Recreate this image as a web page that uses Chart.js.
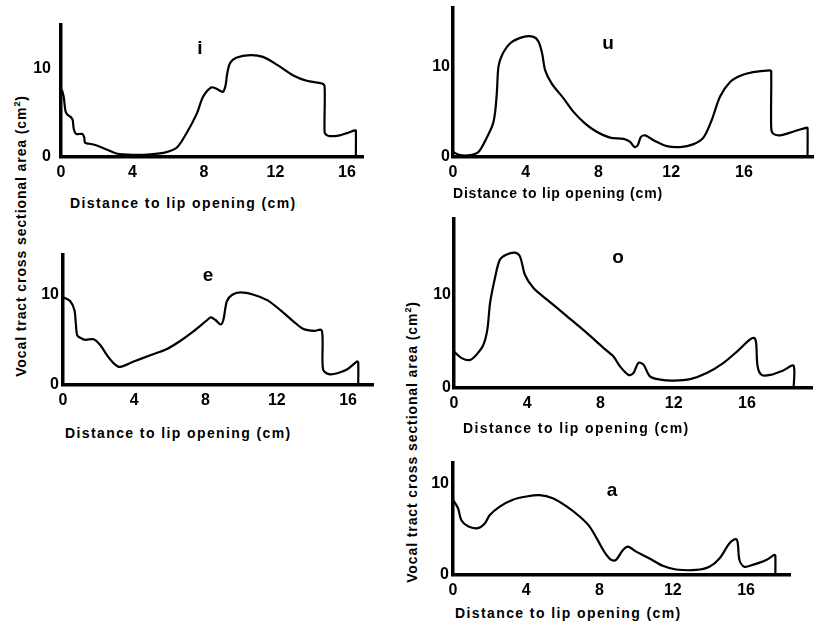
<!DOCTYPE html>
<html>
<head>
<meta charset="utf-8">
<script src="https://cdn.jsdelivr.net/npm/chart.js@4.4.1/dist/chart.umd.min.js"></script>
<style>
    body { margin: 0; background: #fff; }
    #fig { position: relative; width: 815px; height: 626px; overflow: hidden; font-family: "Liberation Sans", Arial, sans-serif; font-weight: bold; color: #000; }
    .panel { position: absolute; }
    .xtitle { position: absolute; font-size: 14px; letter-spacing: 1.4px; white-space: nowrap; line-height: 16px; }
    .vowel { position: absolute; font-size: 19px; transform: translate(-50%, -50%); line-height: 20px; }
    .ytitle { position: absolute; font-size: 14px; letter-spacing: 0.9px; white-space: nowrap; transform: translate(-50%, -50%) rotate(-90deg); line-height: 16px; }
</style>
</head>
<body>
<div id="fig">
    <div class="ytitle" style="left:19px; top:236px;">Vocal tract cross sectional area (cm<sup style="font-size:9px">2</sup>)</div>
    <div class="ytitle" style="left:410px; top:442px;">Vocal tract cross sectional area (cm<sup style="font-size:9px">2</sup>)</div>
</div>

<script>
// Tick values shared by every panel
var xTickValues = [0, 4, 8, 12, 16];
var yTickValues = [0, 10];

// Vowel /i/ : distance to lip opening (cm) and area (cm2)
var iDistance = [0.05, 0.15, 0.25, 0.35, 0.55, 0.65, 0.72, 0.85, 1.2, 1.3, 1.35, 1.6, 2.0, 2.55, 3.1, 4.0, 5.0, 5.9, 6.5, 7.0, 7.6, 7.95, 8.4, 8.7, 9.05, 9.2, 9.3, 9.46, 9.8, 10.6, 11.3, 12.1, 13.0, 13.75, 14.6, 14.75, 14.75, 14.85, 15.05, 15.6, 16.0, 16.45, 16.5, 16.5];
var iArea     = [7.6, 6.8, 5.2, 4.8, 4.5, 4.2, 3.1, 2.6, 2.6, 2.2, 1.6, 1.5, 1.3, 0.85, 0.4, 0.25, 0.3, 0.55, 1.1, 2.6, 4.9, 6.8, 7.85, 7.7, 7.35, 8.0, 9.4, 10.6, 11.2, 11.5, 11.3, 10.4, 9.2, 8.6, 8.3, 8.0, 2.8, 2.5, 2.35, 2.45, 2.7, 3.0, 3.0, 0];

// Vowel /e/
var eDistance = [0.05, 0.4, 0.64, 0.72, 0.8, 1.0, 1.25, 1.72, 2.1, 2.47, 2.85, 3.2, 3.97, 4.9, 5.84, 6.6, 7.3, 8.1, 8.3, 8.56, 8.84, 9.0, 9.2, 9.5, 9.96, 10.7, 11.46, 12.2, 12.96, 13.5, 14.1, 14.5, 14.57, 14.6, 14.93, 15.4, 15.96, 16.5, 16.57, 16.57];
var eArea     = [9.7, 9.3, 8.3, 6.8, 5.5, 5.2, 5.0, 5.07, 4.4, 3.3, 2.4, 2.0, 2.6, 3.3, 4.0, 4.9, 5.9, 7.2, 7.5, 7.2, 6.7, 7.2, 9.3, 10.0, 10.26, 10.0, 9.4, 8.3, 7.0, 6.2, 6.0, 6.1, 5.0, 1.7, 1.2, 1.3, 1.74, 2.6, 2.5, 0];

// Vowel /u/
var uDistance = [0.0, 0.4, 0.95, 1.4, 1.87, 2.2, 2.33, 2.42, 2.5, 2.7, 3.15, 3.88, 4.43, 4.7, 4.9, 5.07, 5.44, 6.08, 6.63, 7.27, 7.9, 8.64, 9.38, 9.74, 9.98, 10.16, 10.33, 10.57, 11.03, 11.76, 12.5, 13.2, 13.77, 14.23, 14.69, 15.24, 15.8, 16.5, 17.43, 17.5, 17.5, 17.6, 17.98, 18.7, 19.45, 19.5, 19.5];
var uArea     = [0.55, 0.2, 0.2, 0.55, 2.2, 3.7, 5.2, 7.4, 10.0, 11.3, 12.6, 13.3, 13.3, 12.8, 11.5, 9.6, 8.1, 6.5, 5.0, 3.7, 2.8, 2.15, 2.0, 1.67, 1.1, 1.3, 2.2, 2.4, 1.85, 1.2, 1.1, 1.4, 2.15, 4.1, 6.7, 8.3, 9.0, 9.4, 9.6, 9.5, 3.3, 2.6, 2.4, 2.8, 3.26, 3.2, 0];

// Vowel /o/
var oDistance = [0.0, 0.42, 0.87, 1.24, 1.6, 1.82, 1.97, 2.24, 2.51, 2.88, 3.33, 3.6, 3.88, 4.34, 5.06, 6.16, 7.25, 8.16, 8.7, 9.07, 9.53, 9.8, 10.07, 10.35, 10.7, 11.26, 11.99, 12.9, 13.8, 14.72, 15.45, 16.17, 16.4, 16.5, 16.58, 16.8, 17.27, 18.0, 18.54, 18.55];
var oArea     = [3.9, 3.2, 3.0, 3.6, 4.6, 6.25, 9.1, 11.8, 13.75, 14.3, 14.5, 14.1, 12.1, 10.7, 9.5, 7.7, 5.9, 4.3, 3.4, 2.3, 1.4, 1.6, 2.7, 2.5, 1.25, 0.9, 0.8, 0.95, 1.6, 2.7, 3.9, 5.2, 5.35, 4.8, 2.3, 1.4, 1.4, 1.9, 2.4, 0];

// Vowel /a/
var aDistance = [0.0, 0.27, 0.45, 0.82, 1.36, 1.73, 2.0, 2.55, 3.27, 4.0, 4.73, 5.45, 6.18, 6.9, 7.45, 7.9, 8.27, 8.64, 8.9, 9.27, 9.55, 10.0, 10.73, 11.45, 12.18, 13.27, 14.0, 14.55, 15.1, 15.45, 15.55, 15.64, 15.9, 16.36, 17.1, 17.55, 17.6, 17.6];
var aArea     = [8.2, 7.3, 6.0, 5.3, 5.1, 5.6, 6.5, 7.45, 8.2, 8.55, 8.7, 8.36, 7.5, 6.4, 5.3, 3.8, 2.5, 1.64, 1.64, 2.7, 3.1, 2.55, 1.8, 1.0, 0.6, 0.55, 0.9, 1.8, 3.45, 3.9, 3.45, 1.64, 0.9, 1.1, 1.64, 2.2, 2.1, 0];

var X_TITLE = 'Distance to lip opening (cm)';

// Where each small plot sits on the page (plot area in px) and its axis ranges
var panels = [
    { vowel: 'i', xs: iDistance, ys: iArea, left: 61,  top: 25,  right: 363, bottom: 157, xMax: 16.9, yMax: 14.9, yPad: 10, label: [200, 48],  title: [70, 195],  spacing: 1.4 },
    { vowel: 'e', xs: eDistance, ys: eArea, left: 63,  top: 255, right: 373, bottom: 385, xMax: 17.4, yMax: 14.4, yPad: 4,  label: [208, 275], title: [65, 425],  spacing: 1.4 },
    { vowel: 'u', xs: uDistance, ys: uArea, left: 453, top: 8,   right: 813, bottom: 157, xMax: 19.8, yMax: 16.5, yPad: 3,  label: [608, 43],  title: [453, 185], spacing: 0.8 },
    { vowel: 'o', xs: oDistance, ys: oArea, left: 454, top: 219, right: 812, bottom: 388, xMax: 19.55, yMax: 18.1, yPad: 3, label: [618, 257], title: [463, 420], spacing: 1.4 },
    { vowel: 'a', xs: aDistance, ys: aArea, left: 453, top: 463, right: 790, bottom: 575, xMax: 18.4, yMax: 12.2, yPad: 4,  label: [612, 490], title: [455, 605], spacing: 1.4 }
];

var Y_AXIS_W = 50;
var X_AXIS_H = 30;
var PAD = 2;

function crearPanel(p) {
    var fig = document.getElementById('fig');

    // canvas box: y axis to the left, x axis below, small pad top/right
    var box = document.createElement('div');
    box.className = 'panel';
    box.style.left = (p.left - Y_AXIS_W) + 'px';
    box.style.top = (p.top - PAD) + 'px';
    var w = Y_AXIS_W + (p.right - p.left) + PAD;
    var h = PAD + (p.bottom - p.top) + X_AXIS_H;
    var canvas = document.createElement('canvas');
    canvas.width = w;
    canvas.height = h;
    canvas.style.width = w + 'px';
    canvas.style.height = h + 'px';
    box.appendChild(canvas);
    fig.appendChild(box);

    var puntos = p.xs.map(function (x, k) { return { x: x, y: p.ys[k] }; });

    var tickFont = { family: '"Liberation Sans", Arial, sans-serif', size: 16, weight: 'bold' };

    new Chart(canvas.getContext('2d'), {
        type: 'line',
        data: {
            datasets: [{
                data: puntos,
                borderColor: '#000',
                borderWidth: 2.2,
                pointRadius: 0,
                tension: 0.3,
                fill: false
            }]
        },
        options: {
            responsive: false,
            animation: false,
            events: [],
            layout: { padding: { top: PAD, right: PAD, left: 0, bottom: 0 } },
            plugins: { legend: { display: false }, tooltip: { enabled: false } },
            scales: {
                x: {
                    type: 'linear',
                    min: 0,
                    max: p.xMax,
                    grid: { display: false, drawTicks: false },
                    border: { display: true, color: '#000', width: 3.5 },
                    ticks: { color: '#000', font: tickFont, padding: 6, autoSkip: false, maxRotation: 0 },
                    afterBuildTicks: function (scale) {
                        scale.ticks = xTickValues.map(function (v) { return { value: v }; });
                    },
                    afterFit: function (scale) {
                        scale.height = X_AXIS_H;
                        scale.paddingLeft = 0;
                        scale.paddingRight = 0;
                    }
                },
                y: {
                    type: 'linear',
                    min: 0,
                    max: p.yMax,
                    grid: { display: false, drawTicks: false },
                    border: { display: true, color: '#000', width: 3.5 },
                    ticks: { color: '#000', font: tickFont, padding: p.yPad, autoSkip: false },
                    afterBuildTicks: function (scale) {
                        scale.ticks = yTickValues.map(function (v) { return { value: v }; });
                    },
                    afterFit: function (scale) {
                        scale.width = Y_AXIS_W;
                        scale.paddingTop = 0;
                        scale.paddingBottom = 0;
                    }
                }
            }
        }
    });

    // vowel letter inside the plot
    var v = document.createElement('div');
    v.className = 'vowel';
    v.style.left = p.label[0] + 'px';
    v.style.top = p.label[1] + 'px';
    v.textContent = p.vowel;
    fig.appendChild(v);

    // x axis title
    var t = document.createElement('div');
    t.className = 'xtitle';
    t.style.left = p.title[0] + 'px';
    t.style.top = p.title[1] + 'px';
    t.style.letterSpacing = p.spacing + 'px';
    t.textContent = X_TITLE;
    fig.appendChild(t);
}

panels.forEach(crearPanel);
</script>
</body>
</html>
